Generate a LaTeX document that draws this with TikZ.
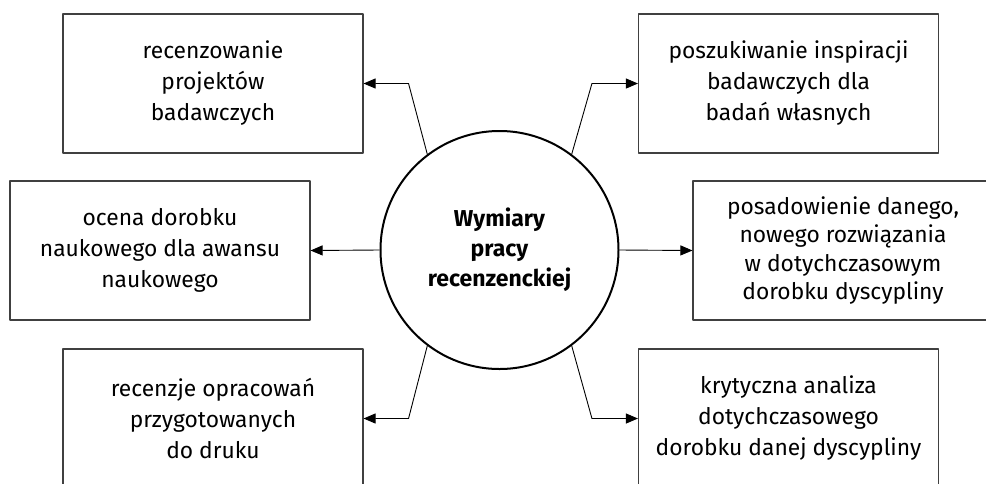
\documentclass[tikz,border=0pt]{standalone}
\usepackage{fontspec}
\setmainfont{Fira Sans}
\usetikzlibrary{arrows.meta}

\begin{document}
\begin{tikzpicture}[x=1pt, y=-1pt, line join=round,
  box/.style={draw=black!75, line width=1.1pt, minimum width=300pt, minimum height=139pt,
              inner sep=0pt, align=center, font=\fontsize{22.8}{31}\selectfont},
  hub/.style={circle, draw, line width=2pt, minimum size=238pt, inner sep=0pt,
              align=center, font=\bfseries\fontsize{23}{30}\selectfont},
  link/.style={line width=0.9pt, -{Triangle[length=12pt,width=10pt]}}]

  %% ════ środek ════
  \node[hub] (hub) at (499.5,250) {Wymiary\\pracy\\recenzenckiej};

  %% ════ prostokąty ════
  \node[box] (tl) at (213,83.5)   {recenzowanie\\projektów\\badawczych};
  \node[box] (tr) at (788.5,83.5) {poszukiwanie inspiracji\\badawczych dla\\badań własnych};
  \node[box] (ml) at (160,250.5)  {ocena dorobku\\naukowego dla awansu\\naukowego};
  \node[box, font=\fontsize{22.8}{28.5}\selectfont] (mr) at (843,250.5)
    {posadowienie danego,\\nowego rozwiązania\\w dotychczasowym\\dorobku dyscypliny};
  \node[box] (bl) at (213,418.5)  {recenzje opracowań\\przygotowanych\\do druku};
  \node[box] (br) at (788.5,418.5) {krytyczna analiza\\dotychczasowego\\dorobku danej dyscypliny};

  %% ════ strzałki ════
  \draw[link] (hub.127) -- ([xshift=45pt]tl.east) -- (tl.east);
  \draw[link] (hub.53)  -- ([xshift=-46pt]tr.west) -- (tr.west);
  \draw[link] (hub.west) -- (ml.east);
  \draw[link] (hub.east) -- (mr.west);
  \draw[link] (hub.233) -- ([xshift=45pt]bl.east) -- (bl.east);
  \draw[link] (hub.-53) -- ([xshift=-46pt]br.west) -- (br.west);

  % ramki dolne i prawa wychodzą poza kadr
  \pgfresetboundingbox
  \path[use as bounding box] (0,0) rectangle (986,483);
\end{tikzpicture}
\end{document}
